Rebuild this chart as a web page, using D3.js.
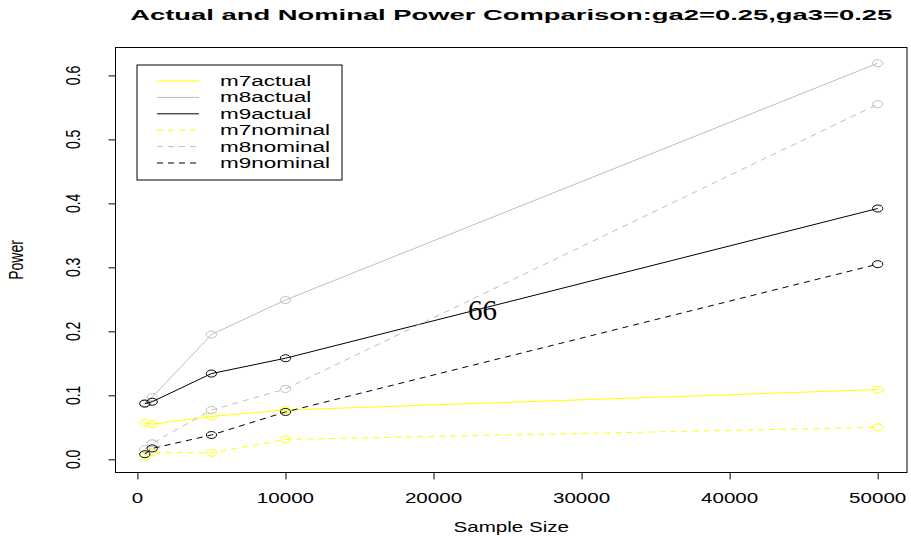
<!DOCTYPE html>
<html>
<head>
<meta charset="utf-8">
<script src="https://cdn.jsdelivr.net/npm/d3@7"></script>
<style>
  html, body { margin: 0; padding: 0; background: #fff; }
  svg { display: block; }
  text { font-family: "Liberation Sans", Arial, sans-serif; }
</style>
</head>
<body>
<svg id="chart" width="911" height="542"></svg>
<script>
// ---- data ----
const sampleSizes = [500, 1000, 5000, 10000, 50000];
const m7actual  = [0.057, 0.055, 0.067, 0.077, 0.109];
const m8actual  = [0.088, 0.097, 0.195, 0.249, 0.619];
const m9actual  = [0.087, 0.090, 0.134, 0.158, 0.392];
const m7nominal = [0.004, 0.011, 0.010, 0.031, 0.050];
const m8nominal = [0.016, 0.025, 0.077, 0.110, 0.555];
const m9nominal = [0.008, 0.017, 0.038, 0.074, 0.305];
const seriesNames = ["m7actual", "m8actual", "m9actual", "m7nominal", "m8nominal", "m9nominal"];
const xTicks = [0, 10000, 20000, 30000, 40000, 50000];
const yTicks = [0.0, 0.1, 0.2, 0.3, 0.4, 0.5, 0.6];
const titleText = "Actual and Nominal Power Comparison:ga2=0.25,ga3=0.25";
const annotation = "66";
const annotationAt = [23300, 0.217];

// ---- layout / styles ----
const SX = 1.47; // horizontal stretch of the original rendering
const plot = { left: 115.5, right: 907, top: 47.5, bottom: 472.5 };
const styles = {
  m7actual:  { color: "#ffff00", dash: null },
  m8actual:  { color: "#bebebe", dash: null },
  m9actual:  { color: "#000000", dash: null },
  m7nominal: { color: "#ffff00", dash: "6,5" },
  m8nominal: { color: "#bebebe", dash: "6,5" },
  m9nominal: { color: "#000000", dash: "6,5" }
};
const seriesData = { m7actual, m8actual, m9actual, m7nominal, m8nominal, m9nominal };

const allVals = [].concat(m7actual, m8actual, m9actual, m7nominal, m8nominal, m9nominal);
const xMin = d3.min(sampleSizes), xMax = d3.max(sampleSizes);
const yMin = d3.min(allVals), yMax = d3.max(allVals);
const xPad = (xMax - xMin) * 0.04, yPad = (yMax - yMin) * 0.04;

const x = d3.scaleLinear().domain([xMin - xPad, xMax + xPad]).range([plot.left, plot.right]);
const y = d3.scaleLinear().domain([yMin - yPad, yMax + yPad]).range([plot.bottom, plot.top]);

const svg = d3.select("#chart");

function stext(g, px, py, str, opts = {}) {
  const t = g.append("text")
    .attr("transform", `translate(${px},${py}) scale(${SX},1)` + (opts.rotate ? ` rotate(${opts.rotate})` : ""))
    .attr("text-anchor", opts.anchor || "middle")
    .attr("font-size", opts.size || 14)
    .attr("font-weight", opts.weight || "normal")
    .attr("fill", "#000")
    .text(str);
  return t;
}

// title
svg.append("text")
  .attr("x", (plot.left + plot.right) / 2)
  .attr("y", 20)
  .attr("text-anchor", "middle")
  .attr("font-size", 14)
  .attr("font-weight", "bold")
  .attr("textLength", 762)
  .attr("lengthAdjust", "spacingAndGlyphs")
  .text(titleText);

// axes
const xAxis = d3.axisBottom(x).tickValues(xTicks).tickSize(7).tickFormat("");
const gx = svg.append("g").attr("transform", `translate(0,${plot.bottom})`).call(xAxis);
gx.select(".domain").attr("d", `M${x(xTicks[0])},0H${x(xTicks[xTicks.length - 1])}`);
gx.selectAll("line").attr("stroke", "#000");
xTicks.forEach(v => stext(svg, x(v), 503, d3.format("d")(v), { size: 14 }));

const yAxis = d3.axisLeft(y).tickValues(yTicks).tickSize(7).tickFormat("");
const gy = svg.append("g").attr("transform", `translate(${plot.left},0)`).call(yAxis);
gy.select(".domain").attr("d", `M0,${y(yTicks[0])}V${y(yTicks[yTicks.length - 1])}`);
gy.selectAll("line").attr("stroke", "#000");
yTicks.forEach(v => stext(svg, 80, y(v), d3.format(".1f")(v), { size: 14, rotate: -90 }));

// axis titles
stext(svg, (plot.left + plot.right) / 2, 532, "Sample Size", { size: 14 });
stext(svg, 23, (plot.top + plot.bottom) / 2, "Power", { size: 14, rotate: -90 });

// plot box
svg.append("rect")
  .attr("x", plot.left).attr("y", plot.top)
  .attr("width", plot.right - plot.left).attr("height", plot.bottom - plot.top)
  .attr("fill", "none").attr("stroke", "#000").attr("stroke-width", 1);

// series
const line = d3.line().x((d, i) => x(sampleSizes[i])).y(d => y(d));
seriesNames.forEach(name => {
  const st = styles[name];
  const vals = seriesData[name];
  const g = svg.append("g");
  g.append("path")
    .attr("d", line(vals))
    .attr("fill", "none")
    .attr("stroke", st.color)
    .attr("stroke-width", 1)
    .attr("stroke-dasharray", st.dash);
  g.selectAll("ellipse").data(vals).join("ellipse")
    .attr("cx", (d, i) => x(sampleSizes[i]))
    .attr("cy", d => y(d))
    .attr("rx", 3.5 * SX).attr("ry", 3.5)
    .attr("fill", "none")
    .attr("stroke", st.color)
    .attr("stroke-width", 1);
});

// annotation
svg.append("text")
  .attr("x", x(annotationAt[0]))
  .attr("y", y(annotationAt[1]))
  .attr("text-anchor", "middle")
  .style("font-family", "'Liberation Serif', 'DejaVu Serif', serif")
  .attr("font-size", 29)
  .attr("fill", "#000")
  .text(annotation);

// legend
const lg = svg.append("g");
lg.append("rect").attr("x", 137).attr("y", 65).attr("width", 205).attr("height", 115)
  .attr("fill", "#fff").attr("stroke", "#000").attr("stroke-width", 1);
seriesNames.forEach((name, i) => {
  const cy = 81 + i * 16.4;
  const st = styles[name];
  lg.append("line").attr("x1", 157).attr("x2", 199).attr("y1", cy).attr("y2", cy)
    .attr("stroke", st.color).attr("stroke-width", 1).attr("stroke-dasharray", st.dash);
  stext(lg, 220, cy + 5, name, { size: 15.3, anchor: "start" });
});
</script>
</body>
</html>
